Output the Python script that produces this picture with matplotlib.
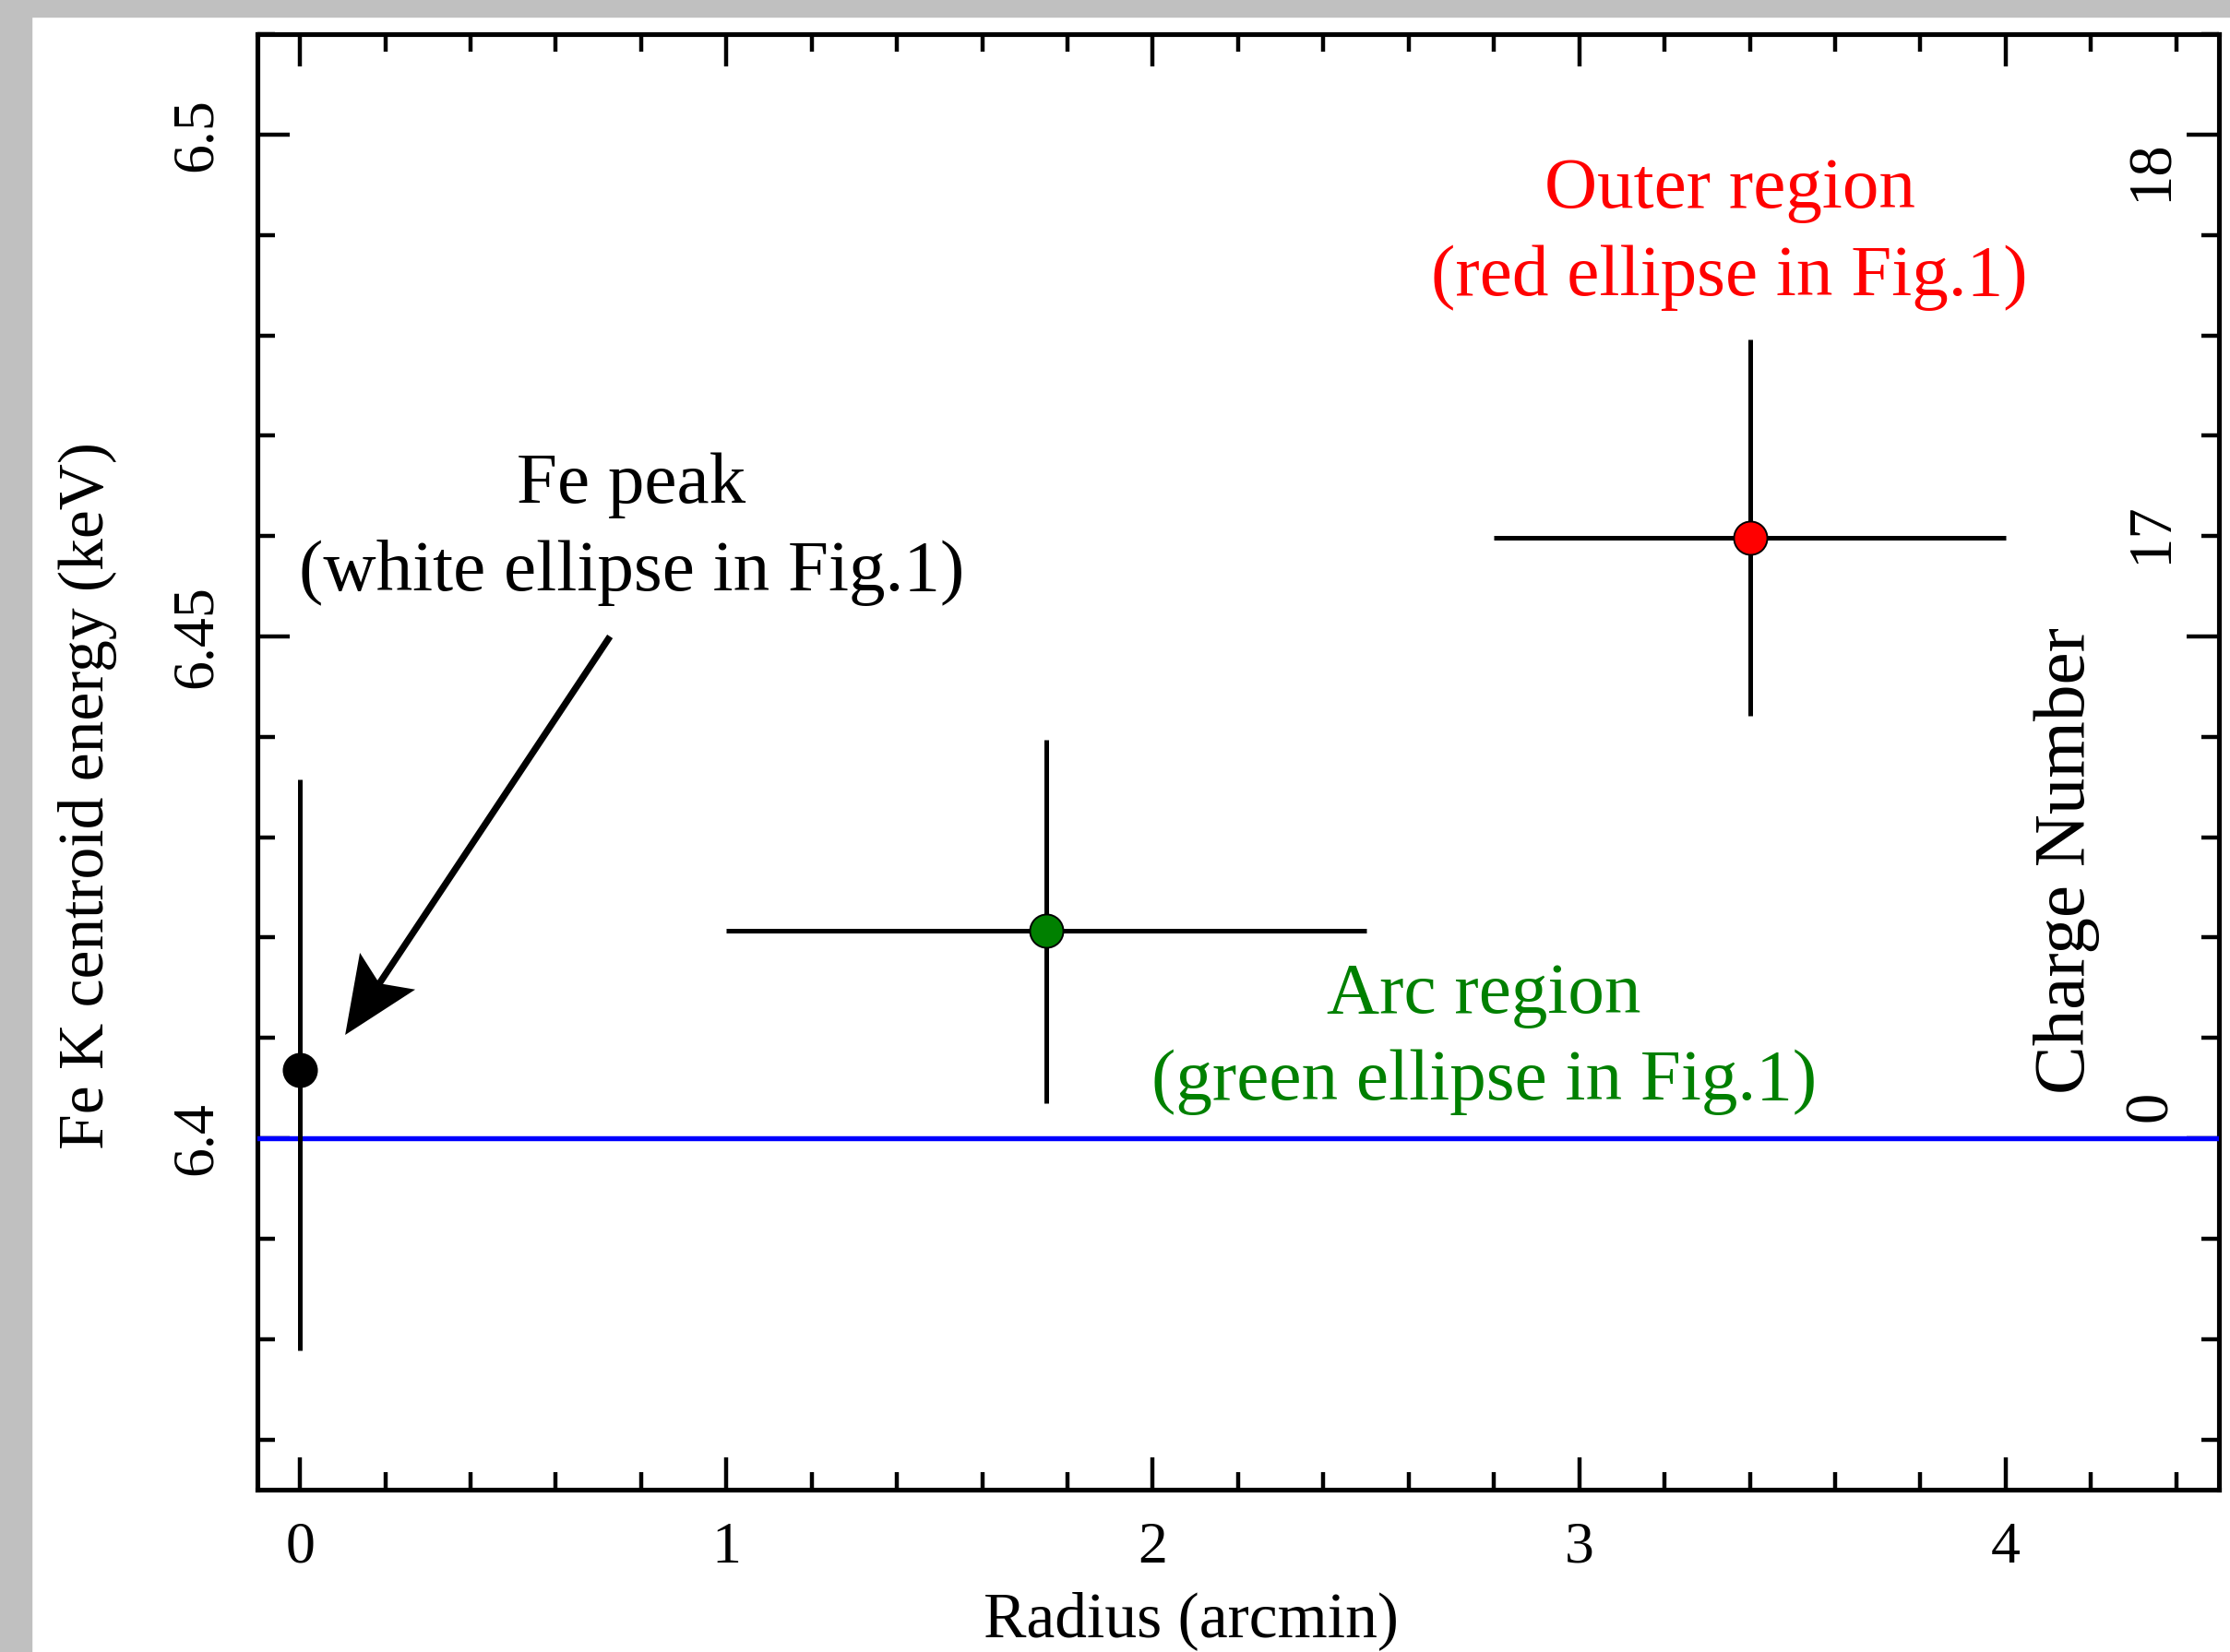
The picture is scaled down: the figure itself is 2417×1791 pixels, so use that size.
import matplotlib

matplotlib.use("Agg")

import matplotlib.pyplot as plt
import numpy as np
from matplotlib.lines import Line2D
from matplotlib.patches import Polygon, Rectangle
from matplotlib.ticker import MultipleLocator
from matplotlib.transforms import IdentityTransform


# data
RADIUS = [0.0, 1.75, 3.4]
RADIUS_LOW = [0.0, 1.0, 2.8]
RADIUS_HIGH = [0.0, 2.5, 4.0]
ENERGY = [6.4068, 6.4207, 6.4598]
ENERGY_LOW = [6.3789, 6.4035, 6.4421]
ENERGY_HIGH = [6.4358, 6.4397, 6.4796]
POINT_COLORS = ["black", "green", "red"]

NEUTRAL_ENERGY = 6.4

CHARGE_LABELS = ["18", "17", "0"]
CHARGE_LABEL_Y = [6.4964, 6.4603, 6.4032]

ARROW_TAIL = (0.727, 6.4500)
ARROW_TIP = (0.106, 6.4103)

FONT = "Liberation Serif"

plt.rcParams["font.family"] = [FONT, "DejaVu Serif"]

figure = plt.figure(figsize=(24.17, 17.91), dpi=100)
axis = figure.add_axes([0.1154, 0.0983, 0.8796, 0.8810])

# grey frame strips on the left and top edges
figure.patches.append(
    Rectangle((0, 0), 34 / 2417, 1, transform=figure.transFigure,
              color="#c0c0c0", zorder=0)
)
figure.patches.append(
    Rectangle((0, 1 - 18 / 1791), 1, 18 / 1791, transform=figure.transFigure,
              color="#c0c0c0", zorder=0)
)

axis.axhline(NEUTRAL_ENERGY, color="blue", linewidth=3.9, zorder=2.6)

for x, x_low, x_high, y, y_low, y_high, color in zip(
    RADIUS, RADIUS_LOW, RADIUS_HIGH, ENERGY, ENERGY_LOW, ENERGY_HIGH, POINT_COLORS
):
    x_error = [[x - x_low], [x_high - x]] if x_high > x_low else None
    axis.errorbar(
        [x],
        [y],
        xerr=x_error,
        yerr=[[y - y_low], [y_high - y]],
        fmt="none",
        ecolor="black",
        elinewidth=3.6,
        capsize=0,
        zorder=2.7,
    )
    axis.plot(
        [x],
        [y],
        marker="o",
        markersize=26,
        markerfacecolor=color,
        markeredgecolor="black",
        markeredgewidth=1.4,
        linestyle="none",
        zorder=3,
    )

axis.set_xlim(-0.1, 4.5)
axis.set_ylim(6.365, 6.51)
axis.xaxis.set_major_locator(MultipleLocator(1))
axis.xaxis.set_minor_locator(MultipleLocator(0.2))
axis.yaxis.set_major_locator(MultipleLocator(0.05))
axis.yaxis.set_minor_locator(MultipleLocator(0.01))
axis.set_yticks([6.4, 6.45, 6.5])
axis.set_yticklabels(["6.4", "6.45", "6.5"], rotation=90, va="center")

axis.tick_params(which="both", direction="in", top=True, right=True, width=3.2)
axis.tick_params(which="major", length=25, labelsize=46)
axis.tick_params(which="minor", length=14)
axis.tick_params(axis="x", which="major", pad=25)
axis.tick_params(axis="y", which="major", pad=26)

for spine in axis.spines.values():
    spine.set_linewidth(3.7)

axis.set_xlabel("Radius (arcmin)", fontsize=50)
axis.xaxis.set_label_coords(0.476, -0.070)
axis.set_ylabel("Fe K centroid energy (keV)", fontsize=50)
axis.yaxis.set_label_coords(-0.0714, 0.4766)

# charge-number scale drawn inside the right edge
for label, y in zip(CHARGE_LABELS, CHARGE_LABEL_Y):
    axis.text(4.342, y, label, rotation=90, ha="center", va="center", fontsize=48)
axis.text(4.143, 6.4277, "Charge Number", rotation=90, ha="center", va="center",
          fontsize=57)

axis.text(0.777, 6.4607, "Fe peak\n(white ellipse in Fig.1)", ha="center",
          va="center", fontsize=57, color="black", linespacing=1.42)
axis.text(3.353, 6.4901, "Outer region\n(red ellipse in Fig.1)", ha="center",
          va="center", fontsize=57, color="red", linespacing=1.42)
axis.text(2.777, 6.4099, "Arc region\n(green ellipse in Fig.1)", ha="center",
          va="center", fontsize=57, color="green", linespacing=1.42)

# arrow with a swept-back head, built in pixel space from the two end points
tail = axis.transData.transform(ARROW_TAIL)
tip = axis.transData.transform(ARROW_TIP)
direction = (tip - tail) / np.hypot(*(tip - tail))
normal = np.array([-direction[1], direction[0]])
head_length = 83
half_width = 36
notch_depth = 16
base = tip - direction * head_length
notch = base + direction * notch_depth
head = Polygon(
    [tip, base + normal * half_width, notch, base - normal * half_width],
    closed=True,
    facecolor="black",
    edgecolor="none",
    transform=IdentityTransform(),
    zorder=4,
)
figure.add_artist(head)
figure.add_artist(
    Line2D([tail[0], notch[0] + direction[0] * 4], [tail[1], notch[1] + direction[1] * 4],
           color="black", linewidth=5.2, solid_capstyle="butt",
           transform=IdentityTransform(), zorder=4)
)

figure.savefig("out.png", dpi=100, facecolor="white")
plt.close(figure)
